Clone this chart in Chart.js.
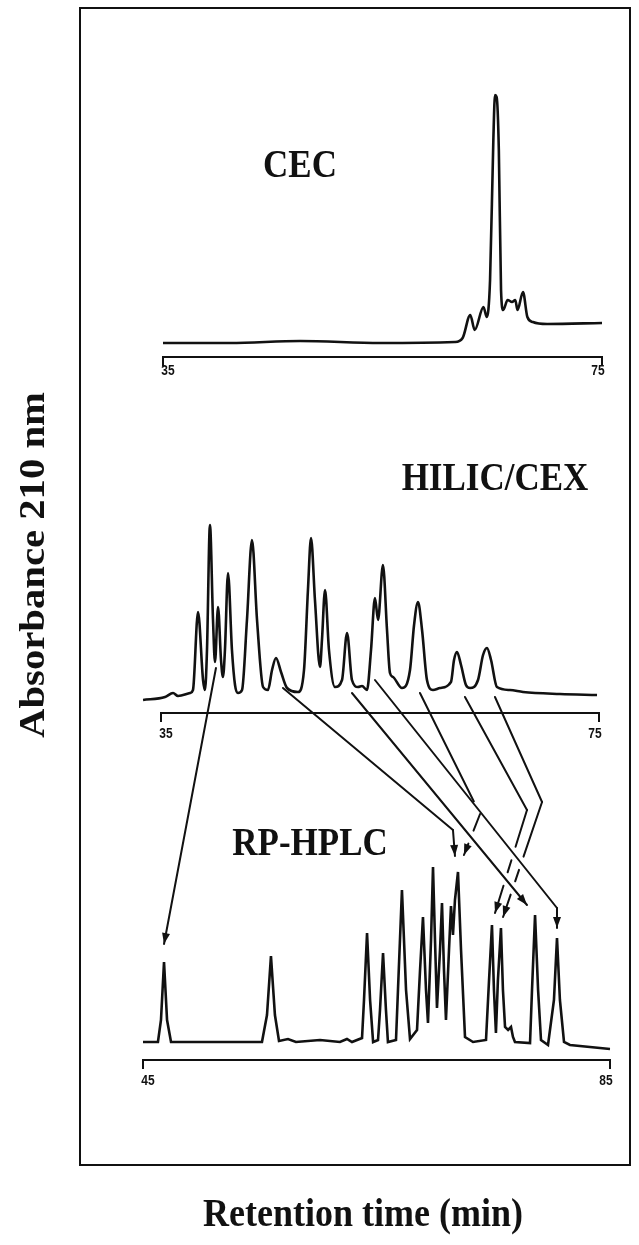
<!DOCTYPE html>
<html>
<head>
<meta charset="utf-8">
<title>Absorbance 210 nm</title>
<script src="https://cdn.jsdelivr.net/npm/chart.js@4.4.1/dist/chart.umd.min.js"></script>
<style>
    html, body { margin: 0; padding: 0; background: #fff; }
    #wrap { position: relative; width: 639px; height: 1245px; }
</style>
</head>
<body>
<div id="wrap"><canvas id="chromChart"></canvas></div>
<script>
// CEC trace: retention time (min) and absorbance (mAU)
const cecTime = [35.0, 41.1, 47.5, 54.8, 61.6, 62.3, 63.0, 63.4, 64.2, 64.5, 64.8, 65.1, 65.25, 65.4, 65.6, 65.8, 66.0, 66.4, 66.8, 67.1, 67.3, 67.8, 68.2, 68.7, 70.0, 75.0];
const cecAbs = [0, 0, 1, 0, 0.5, 2.5, 14, 6.5, 18, 13, 31.5, 101.5, 124, 123, 96.5, 26.5, 16.5, 21.5, 20.5, 21.5, 16.5, 25.5, 13, 10.5, 9.5, 10];
const cecTicks = [35, 75];

// HILIC/CEX trace
const hilicTime = [33.36, 35.37, 36.10, 36.55, 37.65, 37.92, 38.38, 38.84, 39.02, 39.20, 39.47, 39.75, 39.93, 40.21, 40.48, 40.66, 40.84, 41.12, 41.48, 41.76, 42.03, 42.40, 42.85, 43.31, 43.77, 44.32, 44.77, 45.14, 45.50, 45.96, 46.51, 47.51, 48.06, 48.42, 48.70, 49.06, 49.52, 49.70, 49.98, 50.34, 50.89, 51.53, 51.99, 52.44, 52.99, 53.36, 53.81, 54.18, 54.54, 54.82, 55.27, 55.64, 55.91, 56.19, 57.01, 57.74, 58.11, 58.47, 58.84, 59.29, 59.84, 60.48, 61.48, 61.76, 62.03, 62.40, 62.85, 63.22, 63.95, 64.41, 64.77, 65.14, 65.68, 66.87, 68.06, 71.44, 74.82];
const hilicAbs = [-1, 0.5, 2.5, 1, 2.5, 4, 43, 9, 4, 24, 86.5, 39, 18, 45.5, 19, 10.5, 24, 62.5, 24, 6.5, 2.5, 4, 39, 79, 39, 5.5, 4, 14, 20, 13, 5, 3, 14, 54, 80, 49, 15.5, 29, 54, 24, 5.5, 9, 32.5, 9, 5.5, 6, 4, 24, 50, 39, 66.5, 34, 12.5, 10.5, 5, 14, 36.5, 48, 34, 9, 4, 5, 8, 19, 23, 16.5, 6.5, 5, 9, 21.5, 25, 19, 5.5, 4, 3, 2, 1.5];
const hilicTicks = [35, 75];

// RP-HPLC trace
const rpTime = [45.0, 46.28, 46.54, 46.80, 47.06, 47.40, 51.60, 55.19, 55.62, 55.96, 56.30, 56.65, 57.42, 58.10, 60.16, 61.87, 62.47, 62.90, 63.76, 63.93, 64.19, 64.45, 64.71, 65.13, 65.30, 65.56, 65.81, 65.98, 66.67, 66.84, 67.18, 67.53, 67.87, 68.47, 68.73, 68.98, 69.24, 69.41, 69.67, 69.84, 70.01, 70.18, 70.44, 70.61, 70.78, 70.95, 71.21, 71.38, 71.55, 71.72, 71.98, 72.24, 72.58, 73.27, 74.38, 74.64, 74.89, 75.06, 75.23, 75.40, 75.66, 75.83, 76.01, 76.27, 76.52, 76.69, 76.86, 78.15, 78.32, 78.58, 78.84, 79.09, 79.69, 80.20, 80.46, 80.71, 81.06, 81.57, 85.0];
const rpAbs = [0, 0, 11, 40, 11, 0, 0, 0, 13.5, 43, 13.5, 0.5, 1.5, 0, 1, 0, 1.5, 0, 2, 21, 54.5, 21, 0, 1, 16, 44.5, 16, 0, 1, 26, 76, 26, 1.5, 6, 36, 62.5, 26, 9.5, 51, 87.5, 51, 17, 46, 69.5, 36, 11, 46, 68, 53.5, 71, 85, 46, 2.5, 0, 1, 31, 58.5, 26, 4.5, 31, 57, 26, 7.5, 6, 7.5, 2.5, 0, -0.5, 26, 63.5, 26, 1, -1.5, 21, 52, 21, 0, -1.5, -3.5];
const rpTicks = [45, 85];

// Fractions followed from HILIC/CEX into RP-HPLC:
// start = [HILIC time, abs], bend and tip = [RP time, abs]
const arrowStart = [[40.02, 15], [46.14, 5], [52.44, 2.5], [54.54, 9], [58.65, 2.5], [62.76, 0.5], [65.50, 0.5]];
const arrowBend = [null, [71.55, 106], null, [80.46, 67], [73.87, 114], [77.89, 116], [79.18, 120]];
const arrowTip = [[46.80, 49], [71.72, 93], [77.89, 68.5], [80.46, 57], [72.49, 93.5], [75.15, 64.5], [75.84, 62.5]];
// arrows drawn unbroken; the others get a small break where they pass under these
const arrowOnTop = [true, true, true, true, false, false, false];

const INK = '#111';
const SERIF = '"Liberation Serif", "Times New Roman", serif';
const TICK_FONT = 'bold 12px "Liberation Sans", Arial, sans-serif';

// plot frame in page pixels
const AREA = { left: 80, top: 8, right: 630, bottom: 1165 };
const PX_PER_MAU = 2;

// page placement of each trace: pixel span of its time bracket, baseline row, label spot
const panelLayout = {
    cec:   { left: 163, right: 602, base: 343,  bracketGap: 14, labelDrop: 14, name: 'CEC',       nameX: 300, nameY: 167 },
    hilic: { left: 161, right: 599, base: 698,  bracketGap: 15, labelDrop: 21, name: 'HILIC/CEX', nameX: 495, nameY: 480 },
    rp:    { left: 143, right: 610, base: 1042, bracketGap: 18, labelDrop: 21, name: 'RP-HPLC',   nameX: 310, nameY: 845 }
};

// x range that puts the two bracket ticks on the panel's pixel span
function timeRange(p, ticks) {
    const perPx = (ticks[1] - ticks[0]) / (p.right - p.left);
    return {
        min: ticks[0] - (p.left - AREA.left) * perPx,
        max: ticks[0] + (AREA.right - p.left) * perPx
    };
}

// y range with zero absorbance on the panel's baseline row
function absRange(p) {
    return {
        min: -(AREA.bottom - p.base) / PX_PER_MAU,
        max: (p.base - AREA.top) / PX_PER_MAU
    };
}

function hiddenScale(axis, range) {
    return { type: 'linear', axis: axis, display: false, bounds: 'data', min: range.min, max: range.max };
}

function trace(time, abs, xId, yId, smooth) {
    return {
        data: time.map((t, i) => ({ x: t, y: abs[i] })),
        xAxisID: xId,
        yAxisID: yId,
        borderColor: INK,
        borderWidth: 2.6,
        pointRadius: 0,
        fill: false,
        clip: false,
        tension: 0,
        cubicInterpolationMode: smooth ? 'monotone' : 'default'
    };
}

// text drawn a little taller than wide, like the printed lettering
function stretchText(ctx, text, x, y, font, sy) {
    ctx.save();
    ctx.translate(x, y);
    ctx.scale(1, sy);
    ctx.font = font;
    ctx.textAlign = 'center';
    ctx.textBaseline = 'middle';
    ctx.fillText(text, 0, 0);
    ctx.restore();
}

function drawArrowHead(ctx, from, to) {
    const ang = Math.atan2(to[1] - from[1], to[0] - from[0]);
    const len = 11, half = 4;
    const bx = to[0] - len * Math.cos(ang), by = to[1] - len * Math.sin(ang);
    ctx.beginPath();
    ctx.moveTo(to[0], to[1]);
    ctx.lineTo(bx + half * Math.sin(ang), by - half * Math.cos(ang));
    ctx.lineTo(bx - half * Math.sin(ang), by + half * Math.cos(ang));
    ctx.closePath();
    ctx.fill();
}

// parameter along p1->p2 where it crosses q1->q2, or null
function crossAt(p1, p2, q1, q2) {
    const rx = p2[0] - p1[0], ry = p2[1] - p1[1];
    const sx = q2[0] - q1[0], sy = q2[1] - q1[1];
    const d = rx * sy - ry * sx;
    if (Math.abs(d) < 1e-9) return null;
    const t = ((q1[0] - p1[0]) * sy - (q1[1] - p1[1]) * sx) / d;
    const u = ((q1[0] - p1[0]) * ry - (q1[1] - p1[1]) * rx) / d;
    return (t > 0 && t < 1 && u > 0 && u < 1) ? t : null;
}

// stroke a segment, leaving a short break at each crossing
function strokeBroken(ctx, p1, p2, overSegs) {
    const len = Math.hypot(p2[0] - p1[0], p2[1] - p1[1]);
    const gap = 7 / len;
    const cuts = [];
    overSegs.forEach(([q1, q2]) => {
        const t = crossAt(p1, p2, q1, q2);
        if (t !== null) cuts.push(t);
    });
    cuts.sort((a, b) => a - b);
    let from = 0;
    const pieces = [];
    cuts.forEach(t => {
        pieces.push([from, Math.max(from, t - gap)]);
        from = Math.min(1, t + gap);
    });
    pieces.push([from, 1]);
    ctx.beginPath();
    pieces.forEach(([a, b]) => {
        if (b <= a) return;
        ctx.moveTo(p1[0] + (p2[0] - p1[0]) * a, p1[1] + (p2[1] - p1[1]) * a);
        ctx.lineTo(p1[0] + (p2[0] - p1[0]) * b, p1[1] + (p2[1] - p1[1]) * b);
    });
    ctx.stroke();
}

const chromDecor = {
    id: 'chromDecor',
    afterDatasetsDraw(chart) {
        const ctx = chart.ctx;
        const a = chart.chartArea;
        const s = chart.scales;
        ctx.save();
        ctx.strokeStyle = INK;
        ctx.fillStyle = INK;

        // frame
        ctx.lineWidth = 2;
        ctx.strokeRect(a.left, a.top, a.right - a.left, a.bottom - a.top);

        // time brackets under each trace
        const brackets = [
            ['cec', 'xCec', 'yCec', cecTicks],
            ['hilic', 'xHilic', 'yHilic', hilicTicks],
            ['rp', 'xRp', 'yRp', rpTicks]
        ];
        brackets.forEach(([key, xId, yId, ticks]) => {
            const p = panelLayout[key];
            const y = s[yId].getPixelForValue(0) + p.bracketGap;
            const xa = s[xId].getPixelForValue(ticks[0]);
            const xb = s[xId].getPixelForValue(ticks[1]);
            ctx.lineWidth = 2;
            ctx.beginPath();
            ctx.moveTo(xa, y + 9);
            ctx.lineTo(xa, y);
            ctx.lineTo(xb, y);
            ctx.lineTo(xb, y + 9);
            ctx.stroke();
            stretchText(ctx, String(ticks[0]), xa + 5, y + p.labelDrop, TICK_FONT, 1.2);
            stretchText(ctx, String(ticks[1]), xb - 4, y + p.labelDrop, TICK_FONT, 1.2);
            stretchText(ctx, p.name, p.nameX, p.nameY, 'bold 35px ' + SERIF, 1.13);
        });

        // arrows from HILIC/CEX peaks to RP-HPLC peaks
        const paths = arrowStart.map((st, i) => {
            const pts = [[s.xHilic.getPixelForValue(st[0]), s.yHilic.getPixelForValue(st[1])]];
            if (arrowBend[i]) {
                pts.push([s.xRp.getPixelForValue(arrowBend[i][0]), s.yRp.getPixelForValue(arrowBend[i][1])]);
            }
            pts.push([s.xRp.getPixelForValue(arrowTip[i][0]), s.yRp.getPixelForValue(arrowTip[i][1])]);
            return pts;
        });
        const overSegs = [];
        paths.forEach((pts, i) => {
            if (!arrowOnTop[i]) return;
            for (let k = 1; k < pts.length; k++) overSegs.push([pts[k - 1], pts[k]]);
        });
        ctx.lineWidth = 2;
        ctx.lineCap = 'round';
        paths.forEach((pts, i) => {
            for (let k = 1; k < pts.length; k++) {
                strokeBroken(ctx, pts[k - 1], pts[k], arrowOnTop[i] ? [] : overSegs);
            }
            const n = pts.length;
            drawArrowHead(ctx, pts[n - 2], pts[n - 1]);
        });

        // axis titles
        stretchText(ctx, 'Retention time (min)', 363, 1215, 'bold 36px ' + SERIF, 1.13);
        ctx.save();
        ctx.translate(35, 565);
        ctx.rotate(-Math.PI / 2);
        ctx.scale(1.13, 1);
        ctx.font = 'bold 36px ' + SERIF;
        ctx.textAlign = 'center';
        ctx.textBaseline = 'middle';
        ctx.fillText('Absorbance 210 nm', 0, 0);
        ctx.restore();

        ctx.restore();
    }
};

new Chart(document.getElementById('chromChart'), {
    type: 'line',
    data: {
        datasets: [
            trace(cecTime, cecAbs, 'xCec', 'yCec', true),
            trace(hilicTime, hilicAbs, 'xHilic', 'yHilic', true),
            trace(rpTime, rpAbs, 'xRp', 'yRp', false)
        ]
    },
    options: {
        responsive: true,
        maintainAspectRatio: false,
        devicePixelRatio: 1,
        animation: false,
        layout: {
            padding: { left: AREA.left, top: AREA.top, right: 639 - AREA.right, bottom: 1245 - AREA.bottom }
        },
        plugins: {
            legend: { display: false },
            tooltip: { enabled: false }
        },
        scales: {
            xCec: hiddenScale('x', timeRange(panelLayout.cec, cecTicks)),
            yCec: hiddenScale('y', absRange(panelLayout.cec)),
            xHilic: hiddenScale('x', timeRange(panelLayout.hilic, hilicTicks)),
            yHilic: hiddenScale('y', absRange(panelLayout.hilic)),
            xRp: hiddenScale('x', timeRange(panelLayout.rp, rpTicks)),
            yRp: hiddenScale('y', absRange(panelLayout.rp))
        }
    },
    plugins: [chromDecor]
});
</script>
</body>
</html>
